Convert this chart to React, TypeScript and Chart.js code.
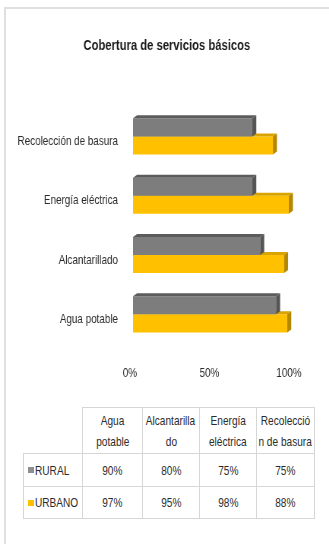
import React, { useEffect, useRef } from "react";
import { Chart, registerables } from "chart.js";

Chart.register(...registerables);

// Service categories (bottom to top on the chart, left to right in the table)
const categories = ["Agua potable", "Alcantarillado", "Energía eléctrica", "Recolección de basura"];
// How the table header wraps each category
const headerLines = [
  ["Agua", "potable"],
  ["Alcantarilla", "do"],
  ["Energía", "eléctrica"],
  ["Recolecció", "n de basura"],
];
const seriesNames = ["RURAL", "URBANO"];
const rural = [90, 80, 75, 75];
const urbano = [97, 95, 98, 88];
const xTickValues = [0, 50, 100];

const FONT = '"Liberation Sans", Arial, sans-serif';
const TEXT = "#2b2b2b";

// The narrow look of the lettering: the chart canvas is laid out wider and
// squeezed horizontally, table text gets the same squeeze.
const SQUEEZE = 0.76;
const CANVAS_W = 433;
const CANVAS_H = 395;

const frontColors = ["#7d7d7d", "#ffc000"];
const topColors = ["#5c5c5c", "#d9a300"];
const sideColors = ["#555555", "#b38700"];
const markerColors = ["#8f8f8f", "#ffc000"];

// Adds a shallow top face and right face to every bar for a 3-D look
const barDepth = {
  id: "barDepth",
  afterDatasetDraw(chart: any, args: any) {
    const i = args.index;
    const ctx = chart.ctx;
    const dx = 5.3;
    const dy = 3;
    ctx.save();
    args.meta.data.forEach((el: any) => {
      const { x, y, base, height } = el.getProps(["x", "y", "base", "height"], true);
      const top = y - height / 2;
      const bottom = y + height / 2;
      const left = Math.min(base, x);
      const right = Math.max(base, x);
      ctx.fillStyle = topColors[i];
      ctx.beginPath();
      ctx.moveTo(left, top);
      ctx.lineTo(left + dx, top - dy);
      ctx.lineTo(right + dx, top - dy);
      ctx.lineTo(right, top);
      ctx.closePath();
      ctx.fill();
      ctx.fillStyle = sideColors[i];
      ctx.beginPath();
      ctx.moveTo(right, top);
      ctx.lineTo(right + dx, top - dy);
      ctx.lineTo(right + dx, bottom - dy);
      ctx.lineTo(right, bottom);
      ctx.closePath();
      ctx.fill();
    });
    ctx.restore();
  },
};

function CoverageChart() {
  const ref = useRef<HTMLCanvasElement | null>(null);
  useEffect(() => {
    if (!ref.current) return;
    const chart = new Chart(ref.current, {
      type: "bar",
      data: {
        labels: categories,
        datasets: [
          { label: seriesNames[0], data: rural, backgroundColor: frontColors[0], borderWidth: 0 },
          { label: seriesNames[1], data: urbano, backgroundColor: frontColors[1], borderWidth: 0 },
        ],
      },
      options: {
        indexAxis: "y",
        responsive: false,
        animation: false,
        layout: { padding: { left: 6, right: 0, top: 0, bottom: 0 } },
        datasets: { bar: { barPercentage: 1, categoryPercentage: 0.61 } },
        plugins: {
          legend: { display: false },
          tooltip: { enabled: false },
          title: {
            display: true,
            text: "Cobertura de servicios básicos",
            color: "#1a1a1a",
            font: { family: FONT, size: 14.8, weight: "bold" },
            padding: { top: 37, bottom: 52 },
          },
        },
        scales: {
          x: {
            min: 0,
            max: 100,
            afterBuildTicks: (scale: any) => {
              scale.ticks = xTickValues.map((v) => ({ value: v }));
            },
            afterFit: (scale: any) => {
              scale.height = 51;
            },
            grid: { display: false, drawTicks: false },
            border: { display: false },
            ticks: {
              padding: 22,
              labelOffset: -4,
              color: TEXT,
              font: { family: FONT, size: 13 },
              callback: (v: any) => v + "%",
            },
          },
          y: {
            reverse: true,
            afterFit: (scale: any) => {
              scale.width = 169;
            },
            grid: { display: false, drawTicks: false },
            border: { display: false },
            ticks: {
              padding: 19.7,
              labelOffset: 5,
              color: TEXT,
              font: { family: FONT, size: 13 },
            },
          },
          // empty strip on the right of the plot (no ticks, no lines)
          yRight: {
            type: "linear",
            position: "right",
            grid: { display: false, drawTicks: false },
            border: { display: false },
            ticks: { display: false },
            afterFit: (scale: any) => {
              scale.width = 48.8;
            },
          },
        },
      },
      plugins: [barDepth],
    } as any);
    return () => chart.destroy();
  }, []);
  return (
    <canvas
      ref={ref}
      width={CANVAS_W}
      height={CANVAS_H}
      style={{
        position: "absolute",
        left: 0,
        top: 0,
        width: CANVAS_W,
        height: CANVAS_H,
        transform: `scaleX(${SQUEEZE})`,
        transformOrigin: "0 0",
      }}
    />
  );
}

function Squeezed({ children, align = "center" }: { children: React.ReactNode; align?: "center" | "left" }) {
  return (
    <div
      style={{
        display: "flex",
        justifyContent: align === "center" ? "center" : "flex-start",
        alignItems: "center",
        whiteSpace: "nowrap",
      }}
    >
      <span
        style={{
          transform: `scaleX(${SQUEEZE})`,
          transformOrigin: align === "center" ? "50% 50%" : "0 50%",
          whiteSpace: "nowrap",
        }}
      >
        {children}
      </span>
    </div>
  );
}

function DataTable() {
  const border = "1px solid #d6d6d6";
  const cell: React.CSSProperties = {
    border,
    padding: 0,
    textAlign: "center",
    verticalAlign: "middle",
    overflow: "visible",
  };
  const rows = [rural, urbano];
  return (
    <table
      style={{
        position: "absolute",
        left: 23,
        top: 407,
        borderCollapse: "collapse",
        tableLayout: "fixed",
        width: 291,
        fontFamily: FONT,
        fontSize: 13.3,
        color: TEXT,
      }}
    >
      <colgroup>
        <col style={{ width: 59 }} />
        <col style={{ width: 60 }} />
        <col style={{ width: 57 }} />
        <col style={{ width: 57 }} />
        <col style={{ width: 58 }} />
      </colgroup>
      <tbody>
        <tr style={{ height: 46 }}>
          <td style={{ padding: 0, border: "none" }} />
          {headerLines.map((lines, i) => (
            <td key={i} style={{ ...cell, lineHeight: "21px" }}>
              <Squeezed>{lines[0]}</Squeezed>
              <Squeezed>{lines[1]}</Squeezed>
            </td>
          ))}
        </tr>
        {rows.map((vals, r) => (
          <tr key={r} style={{ height: r === 0 ? 33 : 32 }}>
            <td style={{ ...cell, paddingLeft: 4 }}>
              <div style={{ display: "flex", alignItems: "center" }}>
                <span
                  style={{
                    display: "inline-block",
                    width: 6,
                    height: 6,
                    background: markerColors[r],
                    marginRight: 1,
                    flex: "none",
                  }}
                />
                <Squeezed align="left">{seriesNames[r]}</Squeezed>
              </div>
            </td>
            {vals.map((v, c) => (
              <td key={c} style={cell}>
                <Squeezed>{v}%</Squeezed>
              </td>
            ))}
          </tr>
        ))}
      </tbody>
    </table>
  );
}

export default function App() {
  return (
    <div
      style={{
        position: "absolute",
        left: 0,
        top: 0,
        width: 329,
        height: 544,
        background: "#ffffff",
        overflow: "hidden",
      }}
    >
      <div style={{ position: "absolute", left: 4, top: 7, width: 325, height: 2, background: "#e0e0e0" }} />
      <div style={{ position: "absolute", left: 4, top: 7, width: 2, height: 537, background: "#e0e0e0" }} />
      <CoverageChart />
      <DataTable />
    </div>
  );
}
